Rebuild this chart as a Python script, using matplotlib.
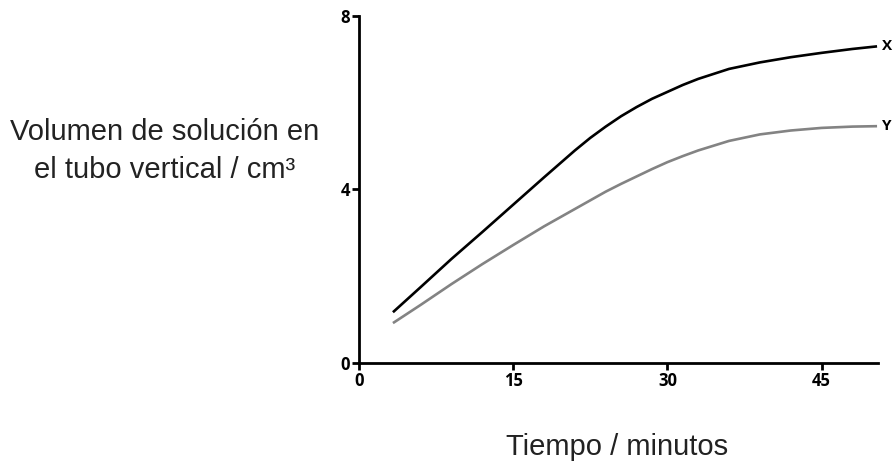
"""
  Volumen de solucion en el tubo vertical frente al tiempo.
"""
import matplotlib
matplotlib.use('Agg')
import matplotlib.pyplot as plt

# datos
tiempo = [3.3, 6, 9, 12, 15, 18, 21, 22.5, 24, 25.5, 27, 28.5, 30, 31.5, 33, 36, 39, 42, 45, 48, 50.4]
vol_x = [1.17, 1.75, 2.4, 3.02, 3.65, 4.28, 4.9, 5.19, 5.45, 5.69, 5.9, 6.09, 6.25, 6.41, 6.55, 6.78, 6.93, 7.05, 7.15, 7.24, 7.3]
vol_y = [0.92, 1.34, 1.82, 2.28, 2.72, 3.15, 3.55, 3.75, 3.95, 4.13, 4.3, 4.47, 4.63, 4.77, 4.9, 5.12, 5.27, 5.36, 5.42, 5.45, 5.46]
xticks = [0, 15, 30, 45]
yticks = [0, 4, 8]

fig = plt.figure(figsize=(8.96, 4.68), dpi=100)
ax = fig.add_axes([0.4007, 0.2244, 0.5793, 0.7414])

ax.plot(tiempo, vol_x, color='black', lw=1.9, solid_capstyle='butt')
ax.plot(tiempo, vol_y, color='#838383', lw=1.9, solid_capstyle='butt')

ax.text(tiempo[-1] + 0.5, vol_x[-1], 'X', fontsize=11, fontweight='bold',
        family='Open Sans', va='center', ha='left', clip_on=False)
ax.text(tiempo[-1] + 0.5, vol_y[-1], 'Y', fontsize=11, fontweight='bold',
        family='Open Sans', va='center', ha='left', clip_on=False)

ax.set_xlim(0, 50.5)
ax.set_ylim(0, 8)
ax.set_xticks(xticks)
ax.set_yticks(yticks)
for lab in ax.get_xticklabels() + ax.get_yticklabels():
  lab.set_fontfamily('Open Sans')
  lab.set_fontweight('bold')
  lab.set_fontsize(12)

for lado in ['top', 'right']:
  ax.spines[lado].set_visible(False)
for lado in ['left', 'bottom']:
  ax.spines[lado].set_linewidth(2)
ax.tick_params(direction='out', length=5, width=2, pad=1.5)

fig.text(165/896, 1 - 151/468, 'Volumen de solución en\nel tubo vertical / cm³',
         family='Liberation Sans', fontsize=21, color='#222222',
         ha='center', va='center', linespacing=1.45)
fig.text(617/896, 1 - 447/468, 'Tiempo / minutos', family='Liberation Sans',
         fontsize=21, color='#222222', ha='center', va='center')

fig.savefig('out.png', dpi=100)
